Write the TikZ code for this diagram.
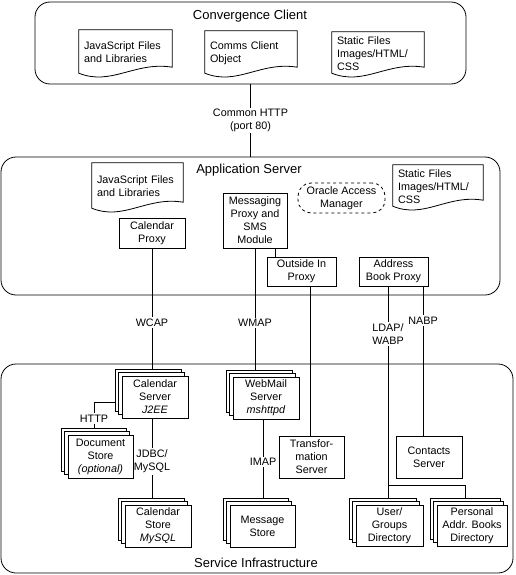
\documentclass[tikz,border=0pt]{standalone}
\usepackage{fontspec}
\setmainfont{Liberation Sans}
\usetikzlibrary{calc,shadows,backgrounds}

\newcommand{\docframe}[1]{%
  \draw[line width=0.8pt] ($(#1.south west)+(0,-2)$) -- (#1.north west) -- (#1.north east)
    -- ($(#1.south east)+(0,-8)$)
    .. controls ($(#1.south west)!0.6!(#1.south east)+(0,-14)$) and ($(#1.south west)!0.35!(#1.south east)+(0,11)$)
    .. ($(#1.south west)+(0,-2)$) -- cycle;
}

\begin{document}
\begin{tikzpicture}[
                x=1pt, y=-1pt,
                every node/.style={font=\fontsize{10.8}{13}\selectfont, align=center, inner sep=1pt},
                zone/.style={draw, rounded corners=15pt, line width=0.8pt},
                zonetitle/.style={font=\fontsize{13}{15}\selectfont},
                box/.style={draw, fill=white, line width=0.8pt, drop shadow={shadow xshift=1.4pt, shadow yshift=-1.4pt, fill=black!35, opacity=1}},
                server/.style={minimum width=66pt, minimum height=42pt},
                stackbox/.style={box, double copy shadow={shadow xshift=-3.2pt, shadow yshift=3.2pt, draw, fill=white, line width=0.8pt}},
                docfile/.style={align=left, text width=#1},
                oracle/.style={draw, dashed, rounded corners=13pt, line width=0.8pt},
                proto/.style={fill=white, inner sep=1.5pt},
                link/.style={line width=0.8pt},
            ]
            \useasboundingbox (0,0) rectangle (515,575);

            % client side
            \node[zone, minimum width=431pt, minimum height=82pt] (client) at (250.5,43) {};
            \node[zonetitle] (clientTitle) at (250,16) {Convergence Client};
            \node[docfile=83pt, minimum width=93pt, minimum height=45pt] (jsClient) at (125.5,52.5) {JavaScript Files\\and Libraries};
            \node[docfile=82pt, minimum width=92pt, minimum height=44pt] (commsClient) at (251,53) {Comms Client\\Object};
            \node[docfile=82pt, minimum width=92pt, minimum height=43pt] (staticClient) at (378,53.5) {Static Files\\Images/HTML/\\CSS};
            \docframe{jsClient}
            \docframe{commsClient}
            \docframe{staticClient}

            % application server
            \node[zone, minimum width=499pt, minimum height=138pt] (app) at (250.5,226) {};
            \node[zonetitle] (appTitle) at (249,170) {Application Server};
            \node[docfile=81pt, minimum width=91pt, minimum height=47pt] (jsApp) at (137.5,186.5) {JavaScript Files\\and Libraries};
            \node[docfile=80pt, minimum width=90pt, minimum height=43pt] (staticApp) at (438,186.5) {Static Files\\Images/HTML/\\CSS};
            \docframe{jsApp}
            \docframe{staticApp}
            \node[oracle, minimum width=87pt, minimum height=30pt] (oam) at (341.5,198) {Oracle Access\\Manager};
            \node[box, minimum width=66pt, minimum height=30pt] (calProxy) at (152,233) {Calendar\\Proxy};
            \node[box, minimum width=64pt, minimum height=55pt] (msgProxy) at (255,220.5) {Messaging\\Proxy and\\SMS\\Module};
            \node[box, minimum width=69pt, minimum height=29pt] (oiProxy) at (301.5,271.5) {Outside In\\Proxy};
            \node[box, minimum width=69pt, minimum height=29pt] (abProxy) at (393.5,271.5) {Address\\Book Proxy};

            % service infrastructure
            \node[zone, minimum width=512pt, minimum height=209pt] (infra) at (257,468.5) {};
            \node[zonetitle] (infraTitle) at (256,563) {Service Infrastructure};
            \node[stackbox, server] (calServer) at (155,397) {Calendar\\Server\\\textit{J2EE}};
            \node[stackbox, server, minimum width=65pt, minimum height=43pt] (docStore) at (100.5,456.5) {Document\\Store\\\textit{(optional)}};
            \node[stackbox, server] (calStore) at (158,526) {Calendar\\Store\\\textit{MySQL}};
            \node[stackbox, server] (wmServer) at (266,398) {WebMail\\Server\\\textit{mshttpd}};
            \node[stackbox, server, minimum width=65pt] (msgStore) at (262.5,526) {Message\\Store};
            \node[box, server, minimum width=65pt] (trServer) at (311.5,457) {Transfor-\\mation\\Server};
            \node[box, server] (ctServer) at (429,457) {Contacts\\Server};
            \node[stackbox, server, minimum width=67pt, minimum height=41pt] (ugDir) at (389.5,525.5) {User/\\Groups\\Directory};
            \node[stackbox, server, minimum width=70pt, minimum height=41pt] (paDir) at (472,525.5) {Personal\\Addr. Books\\Directory};
            \coordinate (abSplit) at (388,485);

            % connectors
            \begin{scope}[on background layer]
            \draw[link] (client.south) -- node[proto] {Common HTTP\\(port 80)} (app.north);
            \draw[link] (calProxy.south) -- node[proto] {WCAP} (calProxy.south |- calServer.center);
            \draw[link] (calProxy.south |- calServer.center) -- node[proto] {JDBC/\\MySQL} (calProxy.south |- calStore.center);
            \draw[link] ([yshift=-5pt]calServer.west) -| node[proto, pos=0.75] {HTTP} ([xshift=-6.5pt]docStore.north);
            \draw[link] (msgProxy.south) -- node[proto] {WMAP} (msgProxy.south |- wmServer.center);
            \draw[link] ([xshift=20pt]msgProxy.south) -- ([xshift=20pt]msgProxy.south |- oiProxy.north);
            \draw[link] ([xshift=8.5pt]oiProxy.south) -- ([xshift=8.5pt]oiProxy.south |- trServer.center);
            \draw[link] ([xshift=-3pt]wmServer.south) -- node[proto] {IMAP} ([xshift=-3pt]wmServer.south |- msgStore.north);
            \draw[link] ([xshift=-5.5pt]abProxy.south) -- node[proto, pos=0.2] {LDAP/\\WABP} ([xshift=-5.5pt]abProxy.south |- ugDir.center);
            \draw[link] (abSplit) -| ([xshift=-7pt]paDir.north);
            \draw[link] ([xshift=29.5pt]abProxy.south) -- node[proto, pos=0.2] {NABP} ([xshift=29.5pt]abProxy.south |- ctServer.center);
            \end{scope}
            \end{tikzpicture}
\end{document}
